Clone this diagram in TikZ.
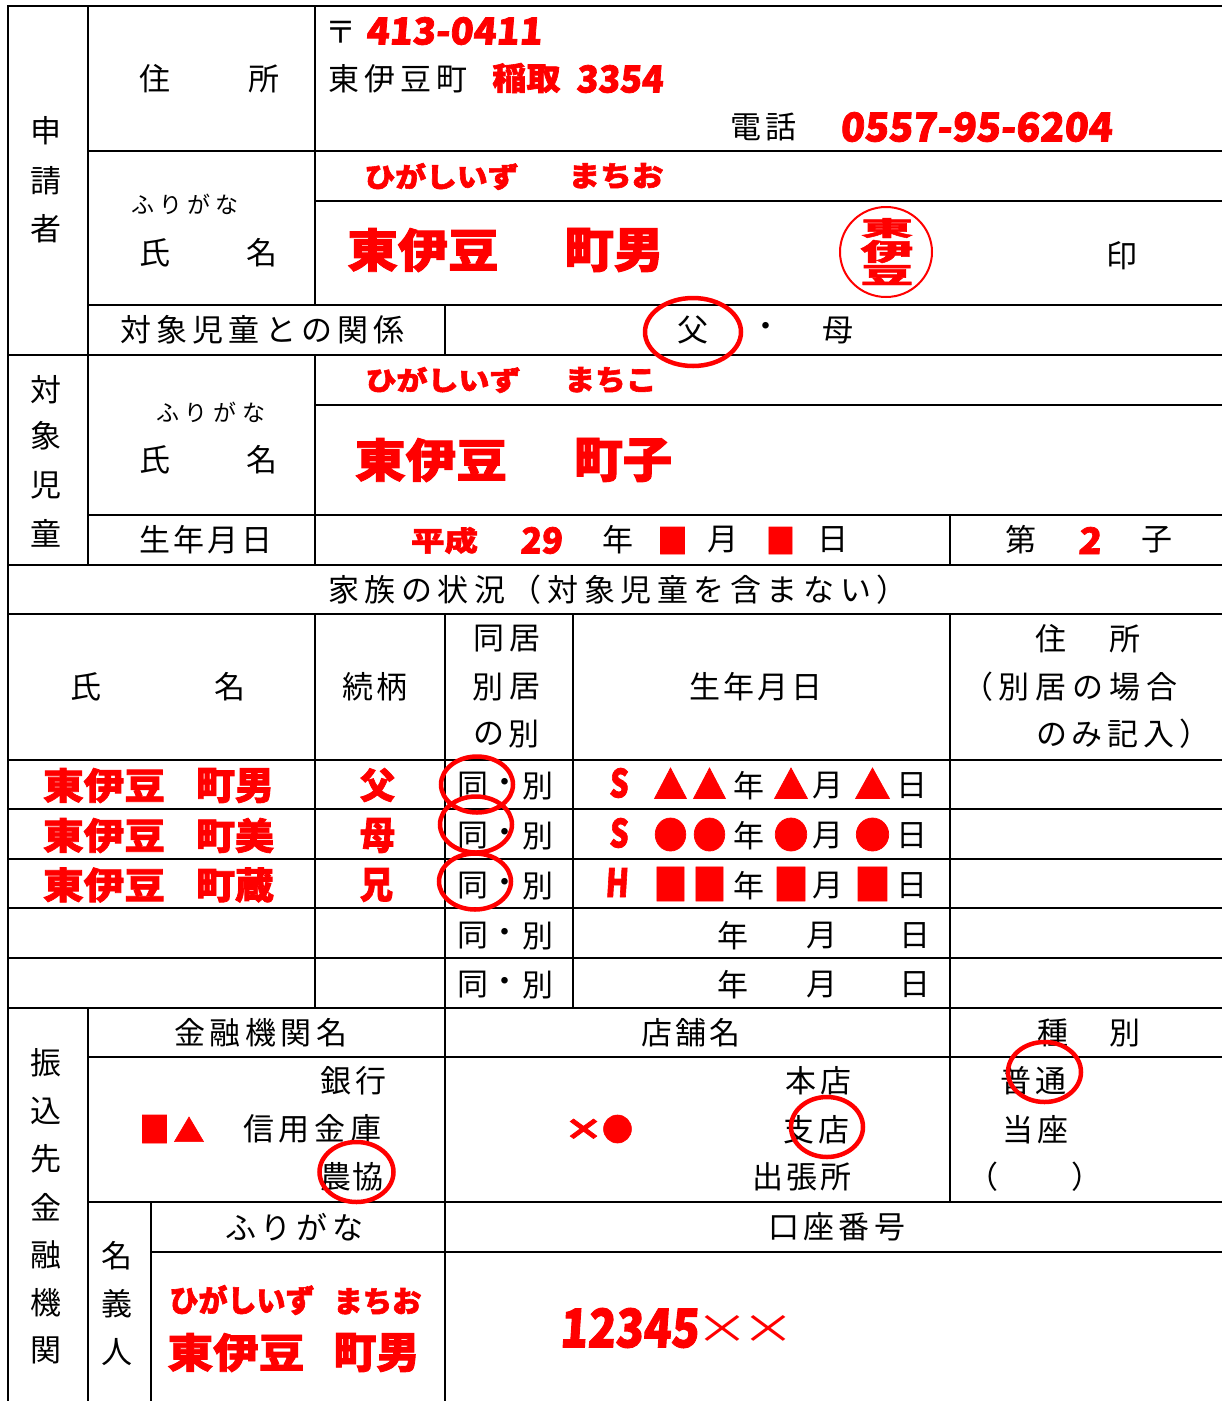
\documentclass[tikz,border=0pt]{standalone}
\usepackage{fontspec}
\newfontfamily\cjk{Noto Sans CJK JP}
\newfontfamily\cjkb[FakeBold=2]{Noto Sans CJK JP}
\newfontfamily\cjknum[FakeSlant=0.08,FakeBold=2]{Noto Sans CJK JP}
\definecolor{rd}{RGB}{255,0,0}
\newcommand{\fitto}[3]{\resizebox*{#1pt}{#2pt}{#3}}
\newcommand{\trk}[2]{\addfontfeature{LetterSpace=#1}#2}
\newcommand{\trks}[3]{\fontsize{#1pt}{#1pt}\selectfont\addfontfeature{LetterSpace=#2}#3}
\begin{document}
\begin{tikzpicture}[x=1pt,y=-1pt,
  lbl/.style={font=\cjk\fontsize{31pt}{31pt}\selectfont, inner sep=0pt, outer sep=0pt},
  lblw/.style={lbl, anchor=west},
  rtext/.style={font=\cjkb\bfseries, text=rd, inner sep=0pt, outer sep=0pt},
  rthin/.style={font=\cjk, text=rd, inner sep=0pt, outer sep=0pt},
  ring/.style={draw=rd, line width=4.5pt},
  rule/.style={line width=2.2pt, line cap=rect}]
\useasboundingbox (0,0) rectangle (1222,1401);
\fill[white] (0,0) rectangle (1222,1401);
% ---------- grid ----------
\foreach \y in {6,355,565,614,760,809,859,908,958,1008} \draw[rule] (8,\y) -- (1222,\y);
\foreach \y in {151,305,515,1057,1202} \draw[rule] (88,\y) -- (1222,\y);
\foreach \y in {201,405} \draw[rule] (315,\y) -- (1222,\y);
\draw[rule] (151,1252) -- (1222,1252);
\draw[rule] (8,6) -- (8,1401);
\draw[rule] (88,6) -- (88,565);
\draw[rule] (88,1008) -- (88,1401);
\draw[rule] (315,6) -- (315,305);
\draw[rule] (315,355) -- (315,565);
\draw[rule] (315,614) -- (315,1008);
\draw[rule] (445,305) -- (445,355);
\draw[rule] (445,614) -- (445,1401);
\draw[rule] (573,614) -- (573,1008);
\draw[rule] (950,515) -- (950,565);
\draw[rule] (950,614) -- (950,1202);
\draw[rule] (151,1202) -- (151,1401);
% ---------- applicant ----------
\node[lbl] (a1) at (46,131) {申};
\node[lbl] (a2) at (46,181) {請};
\node[lbl] (a3) at (46,229) {者};
\node[lbl] (ad1) at (155,79) {住};
\node[lbl] (ad2) at (264,79) {所};
\node[lbl] (zipm) at (341,32) {〒};
\node[rtext] (zip) at (454,31) {\fitto{176}{28}{\cjknum\bfseries 413-0411}};
\node[lblw] (town) at (328,79) {\trk{17}{東伊豆町}};
\node[rtext] (ine) at (526.5,78) {\fitto{68}{30}{稲取}};
\node[rtext] (ban) at (619.5,79) {\fitto{87}{28}{\cjknum\bfseries 3354}};
\node[lblw] (tell) at (730,127) {\trk{13}{電話}};
\node[rtext] (tel) at (976,127) {\fitto{272}{30}{\cjknum\bfseries 0557-95-6204}};
\node[rtext] (k1a) at (441.5,176.5) {\fitto{154}{27}{ひがしいず}};
\node[rtext] (k1b) at (616,176) {\fitto{95}{26}{まちお}};
\node[lblw] (fu1) at (131,204) {\trks{23}{23}{ふりがな}};
\node[lbl] (nm1) at (155,253) {氏};
\node[lbl] (nm2) at (262,253) {名};
\node[rtext] (n1a) at (423,250) {\fitto{151}{44}{東伊豆}};
\node[rtext] (n1b) at (614,250) {\fitto{99}{44}{町男}};
\draw[draw=rd, line width=2pt] (886,252) ellipse [x radius=46pt, y radius=45pt];
\node[rtext] (st1) at (887,228) {\fitto{52}{20}{東}};
\node[rtext] (st2) at (887,251.5) {\fitto{53}{23}{伊}};
\node[rtext] (st3) at (887,275) {\fitto{53}{20}{豆}};
\node[lbl] (inn) at (1122,256) {印};
\node[lblw] (rel) at (120,330) {\trk{17}{対象児童との関係}};
\node[lbl] (fa) at (693,330) {父};
\node[lbl] (dot) at (766,330) {・};
\node[lbl] (mo) at (838,330) {母};
\draw[ring] (693,332) ellipse [x radius=48pt, y radius=34pt];
% ---------- child ----------
\node[lbl] (c1) at (46,390) {対};
\node[lbl] (c2) at (46,436) {象};
\node[lbl] (c3) at (46,485) {児};
\node[lbl] (c4) at (46,533) {童};
\node[lblw] (fu2) at (156,412) {\trks{23}{26}{ふりがな}};
\node[lbl] (cn1) at (155,460) {氏};
\node[lbl] (cn2) at (262,460) {名};
\node[rtext] (k2a) at (443,380) {\fitto{155}{26}{ひがしいず}};
\node[rtext] (k2b) at (610.5,380) {\fitto{92}{26}{まちこ}};
\node[rtext] (n2a) at (431,460) {\fitto{152}{44}{東伊豆}};
\node[rtext] (n2b) at (623,460) {\fitto{98}{44}{町子}};
\node[lblw] (bd) at (139,540) {\trk{10}{生年月日}};
\node[rtext] (era) at (444.5,540.5) {\fitto{67}{27}{平成}};
\node[rtext] (yr) at (541,540.5) {\fitto{42}{27}{\cjknum\bfseries 29}};
\node[lbl] (cy) at (618,540) {年};
\node[rtext] (sqa) at (672.5,540.5) {\fitto{30}{27}{■}};
\node[lbl] (cm) at (723,540) {月};
\node[rtext] (sqb) at (780.5,540.5) {\fitto{29}{27}{■}};
\node[lbl] (cd) at (833,540) {日};
\node[lbl] (dai) at (1021,540) {第};
\node[rtext] (nth) at (1089.5,540.5) {\fitto{23}{27}{\cjknum\bfseries 2}};
\node[lbl] (ko) at (1157,540) {子};
% ---------- family ----------
\node[lblw] (fam) at (328,590) {\trk{18}{家族の状況（対象児童を含まない）}};
\node[lbl] (h1) at (86,687) {氏};
\node[lbl] (h2) at (230,687) {名};
\node[lblw] (h3) at (342,687) {\trk{10}{続柄}};
\node[lbl] (h4a) at (489,639) {同};
\node[lbl] (h4b) at (524.5,639) {居};
\node[lbl] (h4c) at (488,687) {別};
\node[lbl] (h4d) at (524.5,687) {居};
\node[lbl] (h4e) at (489,734) {の};
\node[lbl] (h4f) at (524,734) {別};
\node[lblw] (h5) at (689,687) {\trk{10}{生年月日}};
\node[lbl] (h6a) at (1051,639) {住};
\node[lbl] (h6b) at (1125,639) {所};
\node[lblw] (h6c) at (962,687) {\trk{19}{（別居の場合}};
\node[lblw] (h6d) at (1036,734) {\trk{16}{のみ記入）}};
% rows
\node[rtext] (f1a) at (104,785.5) {\fitto{122}{35}{東伊豆}};
\node[rtext] (f1b) at (235,785.5) {\fitto{78}{35}{町男}};
\node[rtext] (f2a) at (104,835.5) {\fitto{122}{35}{東伊豆}};
\node[rtext] (f2b) at (235,835.5) {\fitto{78}{35}{町美}};
\node[rtext] (f3a) at (104,885) {\fitto{122}{35}{東伊豆}};
\node[rtext] (f3b) at (235,885) {\fitto{78}{35}{町蔵}};
\node[rtext] (r1) at (377.5,785) {\fitto{35}{34}{父}};
\node[rtext] (r2) at (377.5,835.5) {\fitto{35}{35}{母}};
\node[rtext] (r3) at (376.5,885) {\fitto{33}{34}{兄}};
\foreach \i/\y in {1/786,2/836,3/886,4/936,5/985} {
  \node[lbl] (dw\i) at (473,\y) {同};
  \node[lbl] (dd\i) at (505,\y) {・};
  \node[lbl] (db\i) at (538,\y) {別};
}
\draw[ring] (477,784.5) ellipse [x radius=36pt, y radius=28pt];
\draw[ring] (476,824.5) ellipse [x radius=36pt, y radius=28pt];
\draw[ring] (475,881.5) ellipse [x radius=36pt, y radius=28pt];
\node[rtext] (e1) at (618.5,783) {\fitto{19}{30}{\cjknum\bfseries S}};
\node[rtext] (e2) at (618.5,833) {\fitto{19}{30}{\cjknum\bfseries S}};
\node[rtext] (e3) at (616.5,882.5) {\fitto{23}{29}{\cjknum\bfseries H}};
\foreach \i/\x/\w in {1/670.5/34,2/709.5/34,3/791/35,4/872.5/36} {
  \node[rtext] (tr\i) at (\x,783.5) {\fitto{\w}{31}{▲}};
  \node[rtext] (ci\i) at (\x,834.5) {\fitto{\w}{33}{●}};
  \node[rtext] (sq\i) at (\x,884) {\fitto{\w}{34}{■}};
}
\foreach \i/\y in {1/786,2/836,3/886} {
  \node[lbl] (yy\i) at (749,\y) {年};
  \node[lbl] (mm\i) at (828,\y) {月};
  \node[lbl] (ddd\i) at (912,\y) {日};
}
\foreach \i/\y in {4/936,5/985} {
  \node[lbl] (yy\i) at (733,\y) {年};
  \node[lbl] (mm\i) at (822,\y) {月};
  \node[lbl] (ddd\i) at (915,\y) {日};
}
% ---------- bank ----------
\node[lbl] (b1) at (46,1063) {振};
\node[lbl] (b2) at (46,1111) {込};
\node[lbl] (b3) at (46,1159) {先};
\node[lbl] (b4) at (46,1207) {金};
\node[lbl] (b5) at (46,1255) {融};
\node[lbl] (b6) at (46,1303) {機};
\node[lbl] (b7) at (46,1350) {関};
\node[lblw] (bh1) at (174,1033) {\trk{15}{金融機関名}};
\node[lblw] (bh2) at (641,1033) {\trk{11}{店舗名}};
\node[lbl] (bh3a) at (1053,1033) {種};
\node[lbl] (bh3b) at (1125,1033) {別};
\node[lblw] (bk1) at (320,1081) {\trk{13}{銀行}};
\node[rtext] (bsq) at (154.5,1129) {\fitto{30}{28}{■}};
\node[rtext] (btr) at (189,1129.5) {\fitto{31}{25}{▲}};
\node[lblw] (bk2) at (243,1129) {\trk{16}{信用金庫}};
\node[lblw] (bk3) at (320,1177) {\trk{6}{農協}};
\draw[ring] (356.5,1172) ellipse [x radius=37pt, y radius=30pt];
\node[rtext] (bx) at (583.5,1129.5) {\fitto{40}{21}{×}};
\node[rtext] (bci) at (617.5,1129) {\fitto{31}{28}{●}};
\node[lblw] (br1) at (785,1081) {\trk{13}{本店}};
\node[lblw] (br2) at (783,1130) {\trk{13}{支店}};
\node[lblw] (br3) at (752,1177) {\trk{10}{出張所}};
\draw[ring] (827,1127) ellipse [x radius=36pt, y radius=30pt];
\node[lblw] (ty1) at (1000,1081) {\trk{16}{普通}};
\node[lblw] (ty2) at (1002,1130) {\trk{16}{当座}};
\node[lbl] (ty3) at (983,1177) {（};
\node[lbl] (ty4) at (1087,1177) {）};
\draw[ring] (1044.5,1072) ellipse [x radius=36.5pt, y radius=30pt];
\node[lbl] (g1) at (117,1256) {名};
\node[lbl] (g2) at (117,1304) {義};
\node[lbl] (g3) at (117,1352) {人};
\node[lblw] (fu3) at (225,1227) {\trks{31}{16}{ふりがな}};
\node[lblw] (acc) at (768,1227) {\trk{14}{口座番号}};
\node[rtext] (k3a) at (242,1300) {\fitto{145}{30}{ひがしいず}};
\node[rtext] (k3b) at (377.5,1301.5) {\fitto{88}{27}{まちお}};
\node[rtext] (n3a) at (236,1352.5) {\fitto{137}{39}{東伊豆}};
\node[rtext] (n3b) at (376.5,1352.5) {\fitto{86}{39}{町男}};
\node[rtext] (num) at (629,1328) {\fitto{139}{40}{\cjknum\bfseries 12345}};
\node[rthin] (numx1) at (722.5,1329) {\fitto{54}{28}{×}};
\node[rthin] (numx2) at (768,1329) {\fitto{54}{28}{×}};
\end{tikzpicture}
\end{document}
